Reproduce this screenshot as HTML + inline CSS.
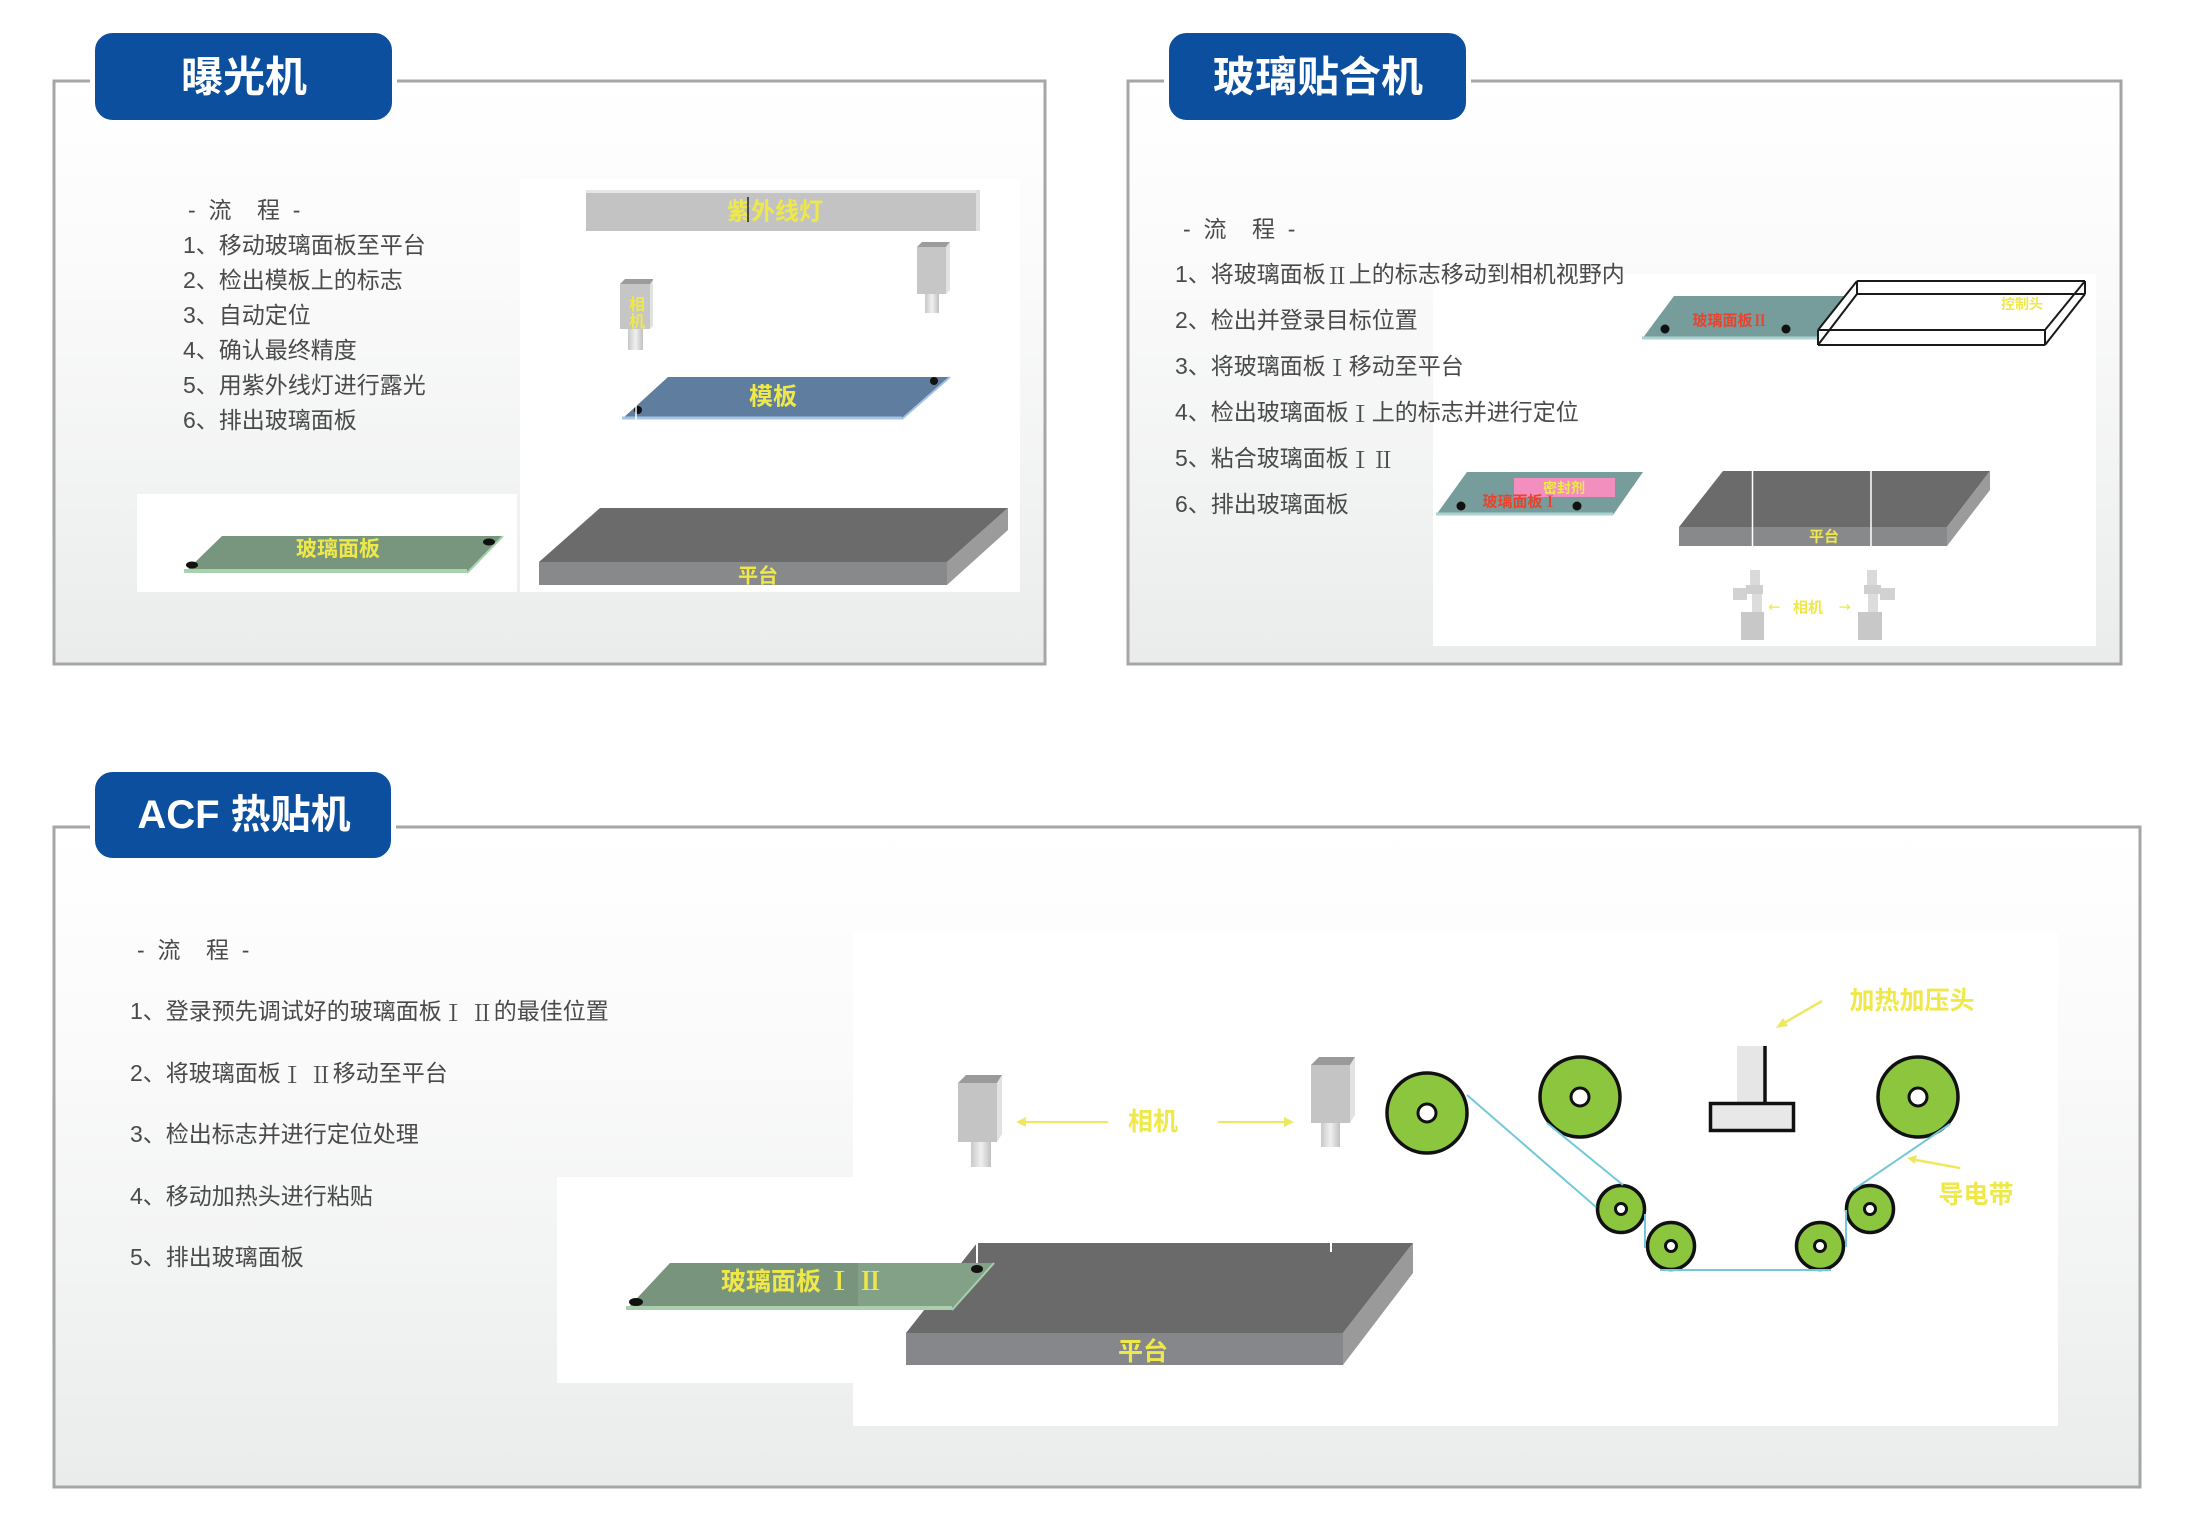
<!DOCTYPE html>
<html><head><meta charset="utf-8">
<style>
html,body{margin:0;padding:0;background:#fff;}
svg{display:block;}
.li{font-family:"Liberation Sans","Noto Sans CJK SC",sans-serif;font-size:23px;fill:#4a4a4a;white-space:pre;}
.tt{font-family:"Liberation Sans","Noto Sans CJK SC",sans-serif;font-weight:700;fill:#fff;}
.y{font-family:"Noto Sans CJK SC","WenQuanYi Zen Hei",sans-serif;font-weight:700;fill:#eee84a;}
.r{font-family:"Noto Sans CJK SC","WenQuanYi Zen Hei",sans-serif;font-weight:700;fill:#e8432c;}
.rn{font-family:"Noto Serif CJK SC","Noto Sans CJK SC",serif;}
</style></head>
<body>
<svg width="2188" height="1539" viewBox="0 0 2188 1539" xmlns="http://www.w3.org/2000/svg">
<defs>
<linearGradient id="pg" x1="0" y1="0" x2="0" y2="1">
<stop offset="0" stop-color="#ffffff"/>
<stop offset="0.35" stop-color="#fafafa"/>
<stop offset="1" stop-color="#eaecec"/>
</linearGradient>
<linearGradient id="lens" x1="0" y1="0" x2="1" y2="0">
<stop offset="0" stop-color="#c8c8c8"/>
<stop offset="0.5" stop-color="#f0f0f0"/>
<stop offset="1" stop-color="#c0c0c0"/>
</linearGradient>
</defs>

<!-- ============ PANEL 1 ============ -->
<rect x="54" y="81" width="991" height="583" fill="url(#pg)" stroke="#a6a6a6" stroke-width="3"/>
<rect x="520" y="179" width="500" height="413" fill="#fff"/>
<rect x="137" y="494" width="380" height="98" fill="#fff"/>
<rect x="92.5" y="30.5" width="302" height="92" rx="20" fill="#0b4f9e" stroke="#fff" stroke-width="5"/>
<text class="tt" x="244" y="77" font-size="42" text-anchor="middle" dominant-baseline="central">曝光机</text>

<text class="li" x="188" y="210" dominant-baseline="central">-  流    程  -</text>
<text class="li" x="183" y="245" dominant-baseline="central">1、移动玻璃面板至平台</text>
<text class="li" x="183" y="280" dominant-baseline="central">2、检出模板上的标志</text>
<text class="li" x="183" y="315" dominant-baseline="central">3、自动定位</text>
<text class="li" x="183" y="350" dominant-baseline="central">4、确认最终精度</text>
<text class="li" x="183" y="385" dominant-baseline="central">5、用紫外线灯进行露光</text>
<text class="li" x="183" y="420" dominant-baseline="central">6、排出玻璃面板</text>

<!-- UV lamp -->
<rect x="586" y="190" width="394" height="41" fill="#c3c3c3"/>
<rect x="586" y="190" width="394" height="3" fill="#e6e6e6"/>
<rect x="976" y="190" width="4" height="41" fill="#dedede"/>
<text class="y" x="775" y="209" font-size="24" text-anchor="middle" dominant-baseline="central">紫外线灯</text>
<line x1="748" y1="197" x2="748" y2="222" stroke="#222" stroke-width="1.5"/>

<!-- cameras panel1 -->
<polygon points="620,284 625,279 653,279 653,284" fill="#9c9c9c"/>
<rect x="620" y="284" width="30" height="45" fill="#c6c6c6"/>
<polygon points="650,284 653,280 653,326 650,329" fill="#e2e2e2"/>
<rect x="628" y="329" width="15" height="21" fill="url(#lens)"/>
<text class="y" x="637" y="303" font-size="16" text-anchor="middle" dominant-baseline="central">相</text>
<text class="y" x="637" y="320" font-size="16" text-anchor="middle" dominant-baseline="central">机</text>

<polygon points="917,247 922,242 950,242 946,247" fill="#9c9c9c"/>
<rect x="917" y="247" width="29" height="47" fill="#c6c6c6"/>
<polygon points="946,247 950,242 950,290 946,294" fill="#e2e2e2"/>
<rect x="925" y="294" width="14" height="19" fill="url(#lens)"/>

<!-- template -->
<polygon points="668,377 950,377 902,419 622,419" fill="#5f7d9e"/>
<line x1="622" y1="418" x2="902" y2="418" stroke="#a3c4e4" stroke-width="3"/>
<line x1="902" y1="419" x2="950" y2="377" stroke="#a3c4e4" stroke-width="2"/>
<text class="y" x="773" y="394" font-size="24" text-anchor="middle" dominant-baseline="central">模板</text>
<circle cx="934" cy="381" r="4" fill="#111"/>
<circle cx="638" cy="410" r="4" fill="#111"/>
<line x1="636" y1="404" x2="636" y2="421" stroke="#fff" stroke-width="1.5"/>

<!-- platform 1 -->
<polygon points="600,508 1008,508 947,562 539,562" fill="#6b6b6b"/>
<rect x="539" y="562" width="408" height="23" fill="#87898b"/>
<polygon points="947,562 1008,508 1008,530 947,585" fill="#9b9b9b"/>
<text class="y" x="758" y="574" font-size="20" text-anchor="middle" dominant-baseline="central">平台</text>

<!-- glass panel 1 -->
<polygon points="222,536 503,536 467,573 184,573" fill="#78967d"/>
<line x1="184" y1="571" x2="467" y2="571" stroke="#a8d2ae" stroke-width="4"/>
<line x1="467" y1="573" x2="503" y2="536" stroke="#a8d2ae" stroke-width="2"/>
<text class="y" x="338" y="548" font-size="21" text-anchor="middle" dominant-baseline="central">玻璃面板</text>
<ellipse cx="192" cy="565" rx="6" ry="3.5" fill="#111"/>
<ellipse cx="489" cy="542" rx="6" ry="3.5" fill="#111"/>

<!-- ============ PANEL 2 ============ -->
<rect x="1128" y="81" width="993" height="583" fill="url(#pg)" stroke="#a6a6a6" stroke-width="3"/>
<rect x="1433" y="274" width="663" height="372" fill="#fff"/>
<rect x="1166.5" y="30.5" width="302" height="92" rx="20" fill="#0b4f9e" stroke="#fff" stroke-width="5"/>
<text class="tt" x="1318" y="77" font-size="42" text-anchor="middle" dominant-baseline="central">玻璃贴合机</text>

<text class="li" x="1183" y="229" dominant-baseline="central">-  流    程  -</text>
<text class="li" x="1175" y="274" dominant-baseline="central">1、将玻璃面板<tspan class="rn">Ⅱ</tspan>上的标志移动到相机视野内</text>
<text class="li" x="1175" y="320" dominant-baseline="central">2、检出并登录目标位置</text>
<text class="li" x="1175" y="366" dominant-baseline="central">3、将玻璃面板<tspan class="rn">Ⅰ</tspan>移动至平台</text>
<text class="li" x="1175" y="412" dominant-baseline="central">4、检出玻璃面板<tspan class="rn">Ⅰ</tspan>上的标志并进行定位</text>
<text class="li" x="1175" y="458" dominant-baseline="central">5、粘合玻璃面板<tspan class="rn">ⅠⅡ</tspan></text>
<text class="li" x="1175" y="504" dominant-baseline="central">6、排出玻璃面板</text>

<!-- glass II -->
<polygon points="1674,296 1851,296 1817,339 1642,339" fill="#769c9c"/>
<line x1="1642" y1="338" x2="1817" y2="338" stroke="#aad2d2" stroke-width="3"/>
<text class="r" x="1730" y="320" font-size="15" text-anchor="middle" dominant-baseline="central">玻璃面板<tspan class="rn">Ⅱ</tspan></text>
<circle cx="1665" cy="329" r="4.5" fill="#111"/>
<circle cx="1786" cy="329" r="4.5" fill="#111"/>

<!-- control head box -->
<polygon points="1857,281 2085,281 2085,294 2045,345 1818,345 1818,330" fill="#fff"/>
<g stroke="#1a1a1a" stroke-width="2" fill="none">
<line x1="1857" y1="281" x2="2085" y2="281"/>
<line x1="1857" y1="294" x2="2085" y2="294"/>
<line x1="1818" y1="330" x2="2045" y2="330"/>
<line x1="1818" y1="345" x2="2045" y2="345"/>
<line x1="1857" y1="281" x2="1818" y2="330"/>
<line x1="1857" y1="294" x2="1818" y2="345"/>
<line x1="2085" y1="281" x2="2045" y2="330"/>
<line x1="2085" y1="294" x2="2045" y2="345"/>
<line x1="1857" y1="281" x2="1857" y2="294"/>
<line x1="2085" y1="281" x2="2085" y2="294"/>
<line x1="1818" y1="330" x2="1818" y2="345"/>
<line x1="2045" y1="330" x2="2045" y2="345"/>
</g>
<text class="y" x="2022" y="304" font-size="14" text-anchor="middle" dominant-baseline="central">控制头</text>

<!-- glass I -->
<polygon points="1467,472 1643,472 1613,515 1436,515" fill="#769c9c"/>
<line x1="1436" y1="514" x2="1613" y2="514" stroke="#aad2d2" stroke-width="3"/>
<rect x="1514" y="478" width="101" height="19" fill="#f28fbf"/>
<text class="y" x="1564" y="488" font-size="14" text-anchor="middle" dominant-baseline="central">密封剂</text>
<text class="r" x="1520" y="501" font-size="15" text-anchor="middle" dominant-baseline="central">玻璃面板<tspan class="rn">Ⅰ</tspan></text>
<circle cx="1461" cy="506" r="4.5" fill="#111"/>
<circle cx="1577" cy="506" r="4.5" fill="#111"/>

<!-- platform 2 -->
<polygon points="1723,471 1990,471 1947,527 1679,527" fill="#6b6b6b"/>
<rect x="1679" y="527" width="268" height="19" fill="#87898b"/>
<polygon points="1947,527 1990,471 1990,490 1947,546" fill="#9b9b9b"/>
<line x1="1752.5" y1="471" x2="1752.5" y2="546" stroke="#fff" stroke-width="1.5"/>
<line x1="1871" y1="471" x2="1871" y2="546" stroke="#fff" stroke-width="1.5"/>
<text class="y" x="1824" y="536" font-size="15" text-anchor="middle" dominant-baseline="central">平台</text>

<!-- cameras panel2 -->
<g>
<rect x="1750" y="570" width="10" height="15" fill="#dadada"/>
<rect x="1733" y="588" width="14" height="12" fill="#d2d2d2"/>
<rect x="1746" y="585" width="17" height="9" fill="#cfcfcf"/>
<rect x="1752" y="594" width="10" height="18" fill="#dcdcdc"/>
<rect x="1741" y="612" width="23" height="28" fill="#c8c8c8"/>
<rect x="1867" y="570" width="10" height="15" fill="#dadada"/>
<rect x="1880" y="588" width="15" height="12" fill="#d2d2d2"/>
<rect x="1864" y="585" width="17" height="9" fill="#cfcfcf"/>
<rect x="1868" y="594" width="10" height="18" fill="#dcdcdc"/>
<rect x="1858" y="612" width="24" height="28" fill="#c8c8c8"/>
</g>
<text class="y" x="1808" y="607" font-size="15" text-anchor="middle" dominant-baseline="central">相机</text>
<text class="y" x="1774" y="607" font-size="12" text-anchor="middle" dominant-baseline="central">←</text>
<text class="y" x="1845" y="607" font-size="12" text-anchor="middle" dominant-baseline="central">→</text>

<!-- ============ PANEL 3 ============ -->
<rect x="54" y="827" width="2086" height="660" fill="url(#pg)" stroke="#a6a6a6" stroke-width="3"/>
<rect x="853" y="933" width="1205" height="493" fill="#fff"/>
<rect x="557" y="1177" width="296" height="206" fill="#fff"/>
<rect x="92.5" y="769.5" width="301" height="91" rx="20" fill="#0b4f9e" stroke="#fff" stroke-width="5"/>
<text class="tt" x="244" y="815" font-size="40" text-anchor="middle" dominant-baseline="central">ACF 热贴机</text>

<text class="li" x="137" y="950" dominant-baseline="central">-  流    程  -</text>
<text class="li" x="130" y="1011" dominant-baseline="central">1、登录预先调试好的玻璃面板<tspan class="rn">Ⅰ Ⅱ</tspan>的最佳位置</text>
<text class="li" x="130" y="1073" dominant-baseline="central">2、将玻璃面板<tspan class="rn">Ⅰ Ⅱ</tspan>移动至平台</text>
<text class="li" x="130" y="1134" dominant-baseline="central">3、检出标志并进行定位处理</text>
<text class="li" x="130" y="1196" dominant-baseline="central">4、移动加热头进行粘贴</text>
<text class="li" x="130" y="1257" dominant-baseline="central">5、排出玻璃面板</text>

<!-- cameras panel3 -->
<polygon points="958,1083 966,1075 1002,1075 997,1083" fill="#9a9a9a"/>
<rect x="958" y="1083" width="39" height="59" fill="#c4c4c4"/>
<polygon points="997,1083 1002,1075 1002,1134 997,1142" fill="#e2e2e2"/>
<rect x="971" y="1142" width="20" height="25" fill="url(#lens)"/>

<polygon points="1311,1065 1319,1057 1355,1057 1350,1065" fill="#9a9a9a"/>
<rect x="1311" y="1065" width="39" height="58" fill="#c4c4c4"/>
<polygon points="1350,1065 1355,1057 1355,1115 1350,1123" fill="#e2e2e2"/>
<rect x="1321" y="1123" width="19" height="24" fill="url(#lens)"/>

<g stroke="#eee860" stroke-width="2">
<line x1="1108" y1="1122" x2="1024" y2="1122"/>
<line x1="1218" y1="1122" x2="1287" y2="1122"/>
</g>
<polygon points="1016,1122 1026,1117 1026,1127" fill="#eee860"/>
<polygon points="1294,1122 1284,1117 1284,1127" fill="#eee860"/>
<text class="y" x="1153" y="1120" font-size="25" text-anchor="middle" dominant-baseline="central">相机</text>

<!-- rollers -->
<g stroke="#111" stroke-width="3.5">
<circle cx="1427" cy="1113" r="40" fill="#8cc63f"/>
<circle cx="1580" cy="1097" r="40" fill="#8cc63f"/>
<circle cx="1918" cy="1097" r="40" fill="#8cc63f"/>
<circle cx="1621" cy="1209" r="23.5" fill="#8cc63f"/>
<circle cx="1671" cy="1246" r="23.5" fill="#8cc63f"/>
<circle cx="1820" cy="1246" r="23.5" fill="#8cc63f"/>
<circle cx="1870" cy="1209" r="23.5" fill="#8cc63f"/>
</g>
<g stroke="#111" stroke-width="3" fill="#fff">
<circle cx="1427" cy="1113" r="9"/>
<circle cx="1580" cy="1097" r="9"/>
<circle cx="1918" cy="1097" r="9"/>
<circle cx="1621" cy="1209" r="5.5"/>
<circle cx="1671" cy="1246" r="5.5"/>
<circle cx="1820" cy="1246" r="5.5"/>
<circle cx="1870" cy="1209" r="5.5"/>
</g>
<!-- belt -->
<g stroke="#72c9da" stroke-width="2" fill="none">
<line x1="1467" y1="1095" x2="1596" y2="1207"/>
<line x1="1547" y1="1123" x2="1623" y2="1185"/>
<line x1="1645" y1="1214" x2="1645" y2="1248"/>
<line x1="1660" y1="1270" x2="1831" y2="1270"/>
<line x1="1846" y1="1247" x2="1846" y2="1210"/>
<line x1="1853" y1="1190" x2="1950" y2="1124"/>
</g>

<!-- heating head -->
<rect x="1737" y="1046" width="27" height="57" fill="#e6e6e6"/>
<line x1="1765" y1="1046" x2="1765" y2="1103" stroke="#111" stroke-width="3.5"/>
<rect x="1710.5" y="1103.5" width="83" height="27" fill="#e8e8e8" stroke="#111" stroke-width="3.5"/>

<g stroke="#eee860" stroke-width="2.5">
<line x1="1822" y1="1001" x2="1784" y2="1023"/>
<line x1="1960" y1="1168" x2="1916" y2="1160"/>
</g>
<polygon points="1776,1028 1783,1018 1788,1026" fill="#eee860"/>
<polygon points="1907,1158 1917,1155 1915,1164" fill="#eee860"/>
<text class="y" x="1912" y="999" font-size="25" text-anchor="middle" dominant-baseline="central">加热加压头</text>
<text class="y" x="1976" y="1193" font-size="25" text-anchor="middle" dominant-baseline="central">导电带</text>

<!-- platform 3 -->
<polygon points="977,1243 1413,1243 1343,1333 906,1333" fill="#6a6a6a"/>
<rect x="906" y="1333" width="437" height="32" fill="#85878a"/>
<polygon points="1343,1333 1413,1243 1413,1273 1343,1365" fill="#9a9a9b"/>
<line x1="977" y1="1243" x2="977" y2="1281" stroke="#fff" stroke-width="2"/>
<line x1="1331" y1="1243" x2="1331" y2="1252" stroke="#fff" stroke-width="2"/>
<text class="y" x="1143" y="1350" font-size="25" text-anchor="middle" dominant-baseline="central">平台</text>

<!-- glass panel 3 -->
<polygon points="670,1263 994,1263 952,1310 626,1310" fill="#78947c"/>
<polygon points="858,1263 994,1263 952,1310 858,1310" fill="#84a489" opacity="0.8"/>
<line x1="626" y1="1308" x2="952" y2="1308" stroke="#a9cfae" stroke-width="4"/>
<line x1="952" y1="1310" x2="994" y2="1263" stroke="#a9cfae" stroke-width="2"/>
<text class="y" x="802" y="1280" font-size="25" text-anchor="middle" dominant-baseline="central" style="white-space:pre">玻璃面板 <tspan class="rn">Ⅰ Ⅱ</tspan></text>
<ellipse cx="636" cy="1302" rx="7" ry="4" fill="#111"/>
<ellipse cx="977" cy="1269" rx="6" ry="4" fill="#111"/>
</svg>
</body></html>
